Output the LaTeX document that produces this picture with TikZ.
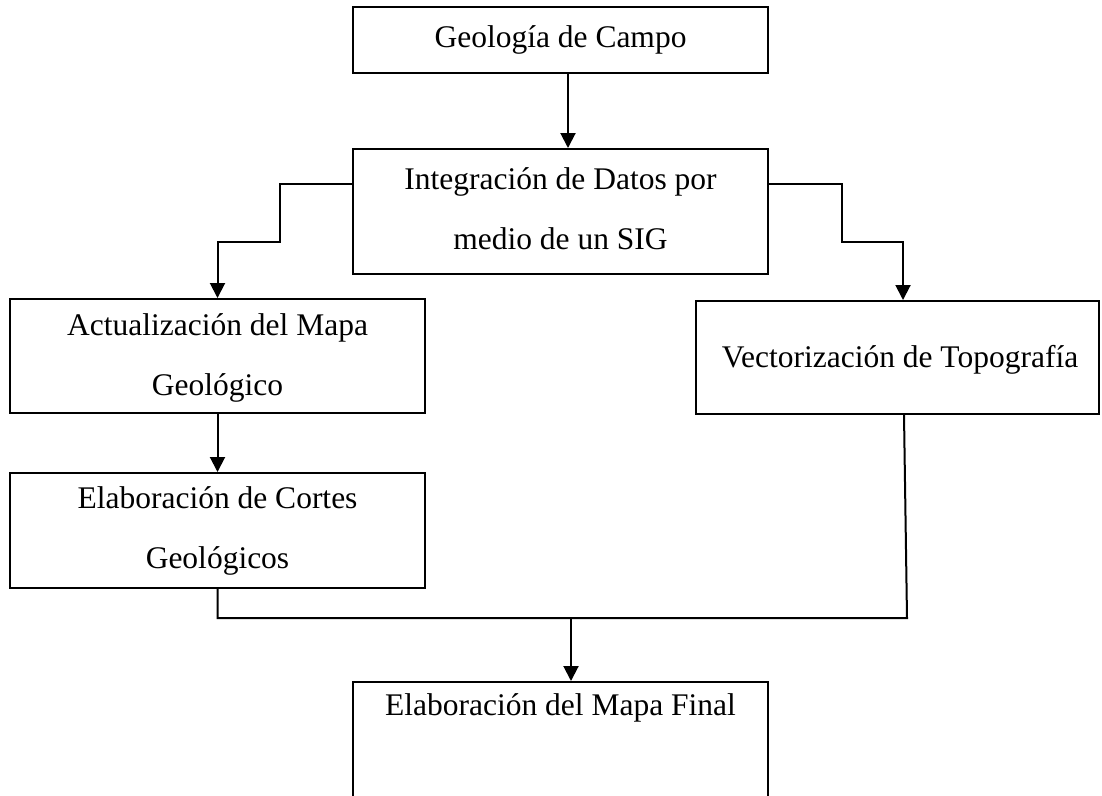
\documentclass[tikz,border=0pt]{standalone}
\usepackage{fontspec}
\setmainfont{Liberation Serif}
\usetikzlibrary{arrows.meta}
\begin{document}
\begin{tikzpicture}[x=1pt,y=-1pt,
  box/.style={draw,line width=2pt,inner sep=0pt,minimum width=415pt},
  lbl/.style={anchor=base,inner sep=0pt,font=\fontsize{31.5}{40}\selectfont},
  conn/.style={line width=2pt},
  arr/.style={conn,-{Triangle[width=15pt,length=15pt]}}]
\useasboundingbox (0,0) rectangle (1102,795);
\clip (0,0) rectangle (1102,795);
% boxes
\node[box,minimum height=66pt]  (b1) at (560.5,40) {};
\node[box,minimum height=125pt] (b2) at (560.5,211.5) {};
\node[box,minimum height=114pt] (b3) at (217.5,356) {};
\node[box,minimum height=113pt,minimum width=403pt] (b4) at (897.5,357.5) {};
\node[box,minimum height=115pt] (b5) at (217.5,530.5) {};
\node[box,minimum height=128pt] (b6) at (560.5,746) {};
% labels
\node[lbl] (t1)  at (560.5,47)  {Geología de Campo};
\node[lbl] (t2a) at (560.5,189) {Integración de Datos por};
\node[lbl] (t2b) at (560.5,249) {medio de un SIG};
\node[lbl] (t3a) at (217.5,335) {Actualización del Mapa};
\node[lbl] (t3b) at (217.5,395) {Geológico};
\node[lbl] (t4)  at (900,367)   {Vectorización de Topografía};
\node[lbl] (t5a) at (217.5,508) {Elaboración de Cortes};
\node[lbl] (t5b) at (217.5,568) {Geológicos};
\node[lbl] (t6)  at (560.5,715) {Elaboración del Mapa Final};
% helper coordinates
\coordinate (a1) at (568,0);
\coordinate (k1) at (280,242);
\coordinate (k2) at (842,242);
\coordinate (k2x) at (903,0);
\coordinate (j) at (907,618);
\coordinate (v4) at (904,0);
\coordinate (jm) at (571,618);
% connectors
\draw[arr] (a1 |- b1.south) -- (a1 |- b2.north);
\draw[arr] ([yshift=-36pt]b2.north west) -| (k1) -| (b3.north);
\draw[arr] ([yshift=-36pt]b2.north east) -| (k2) -| (k2x |- b4.north);
\draw[arr] (b3.south) -- (b5.north);
\draw[conn] (b5.south) |- (j) -- (v4 |- b4.south);
\draw[arr] (jm) -- (jm |- b6.north);
\end{tikzpicture}
\end{document}
